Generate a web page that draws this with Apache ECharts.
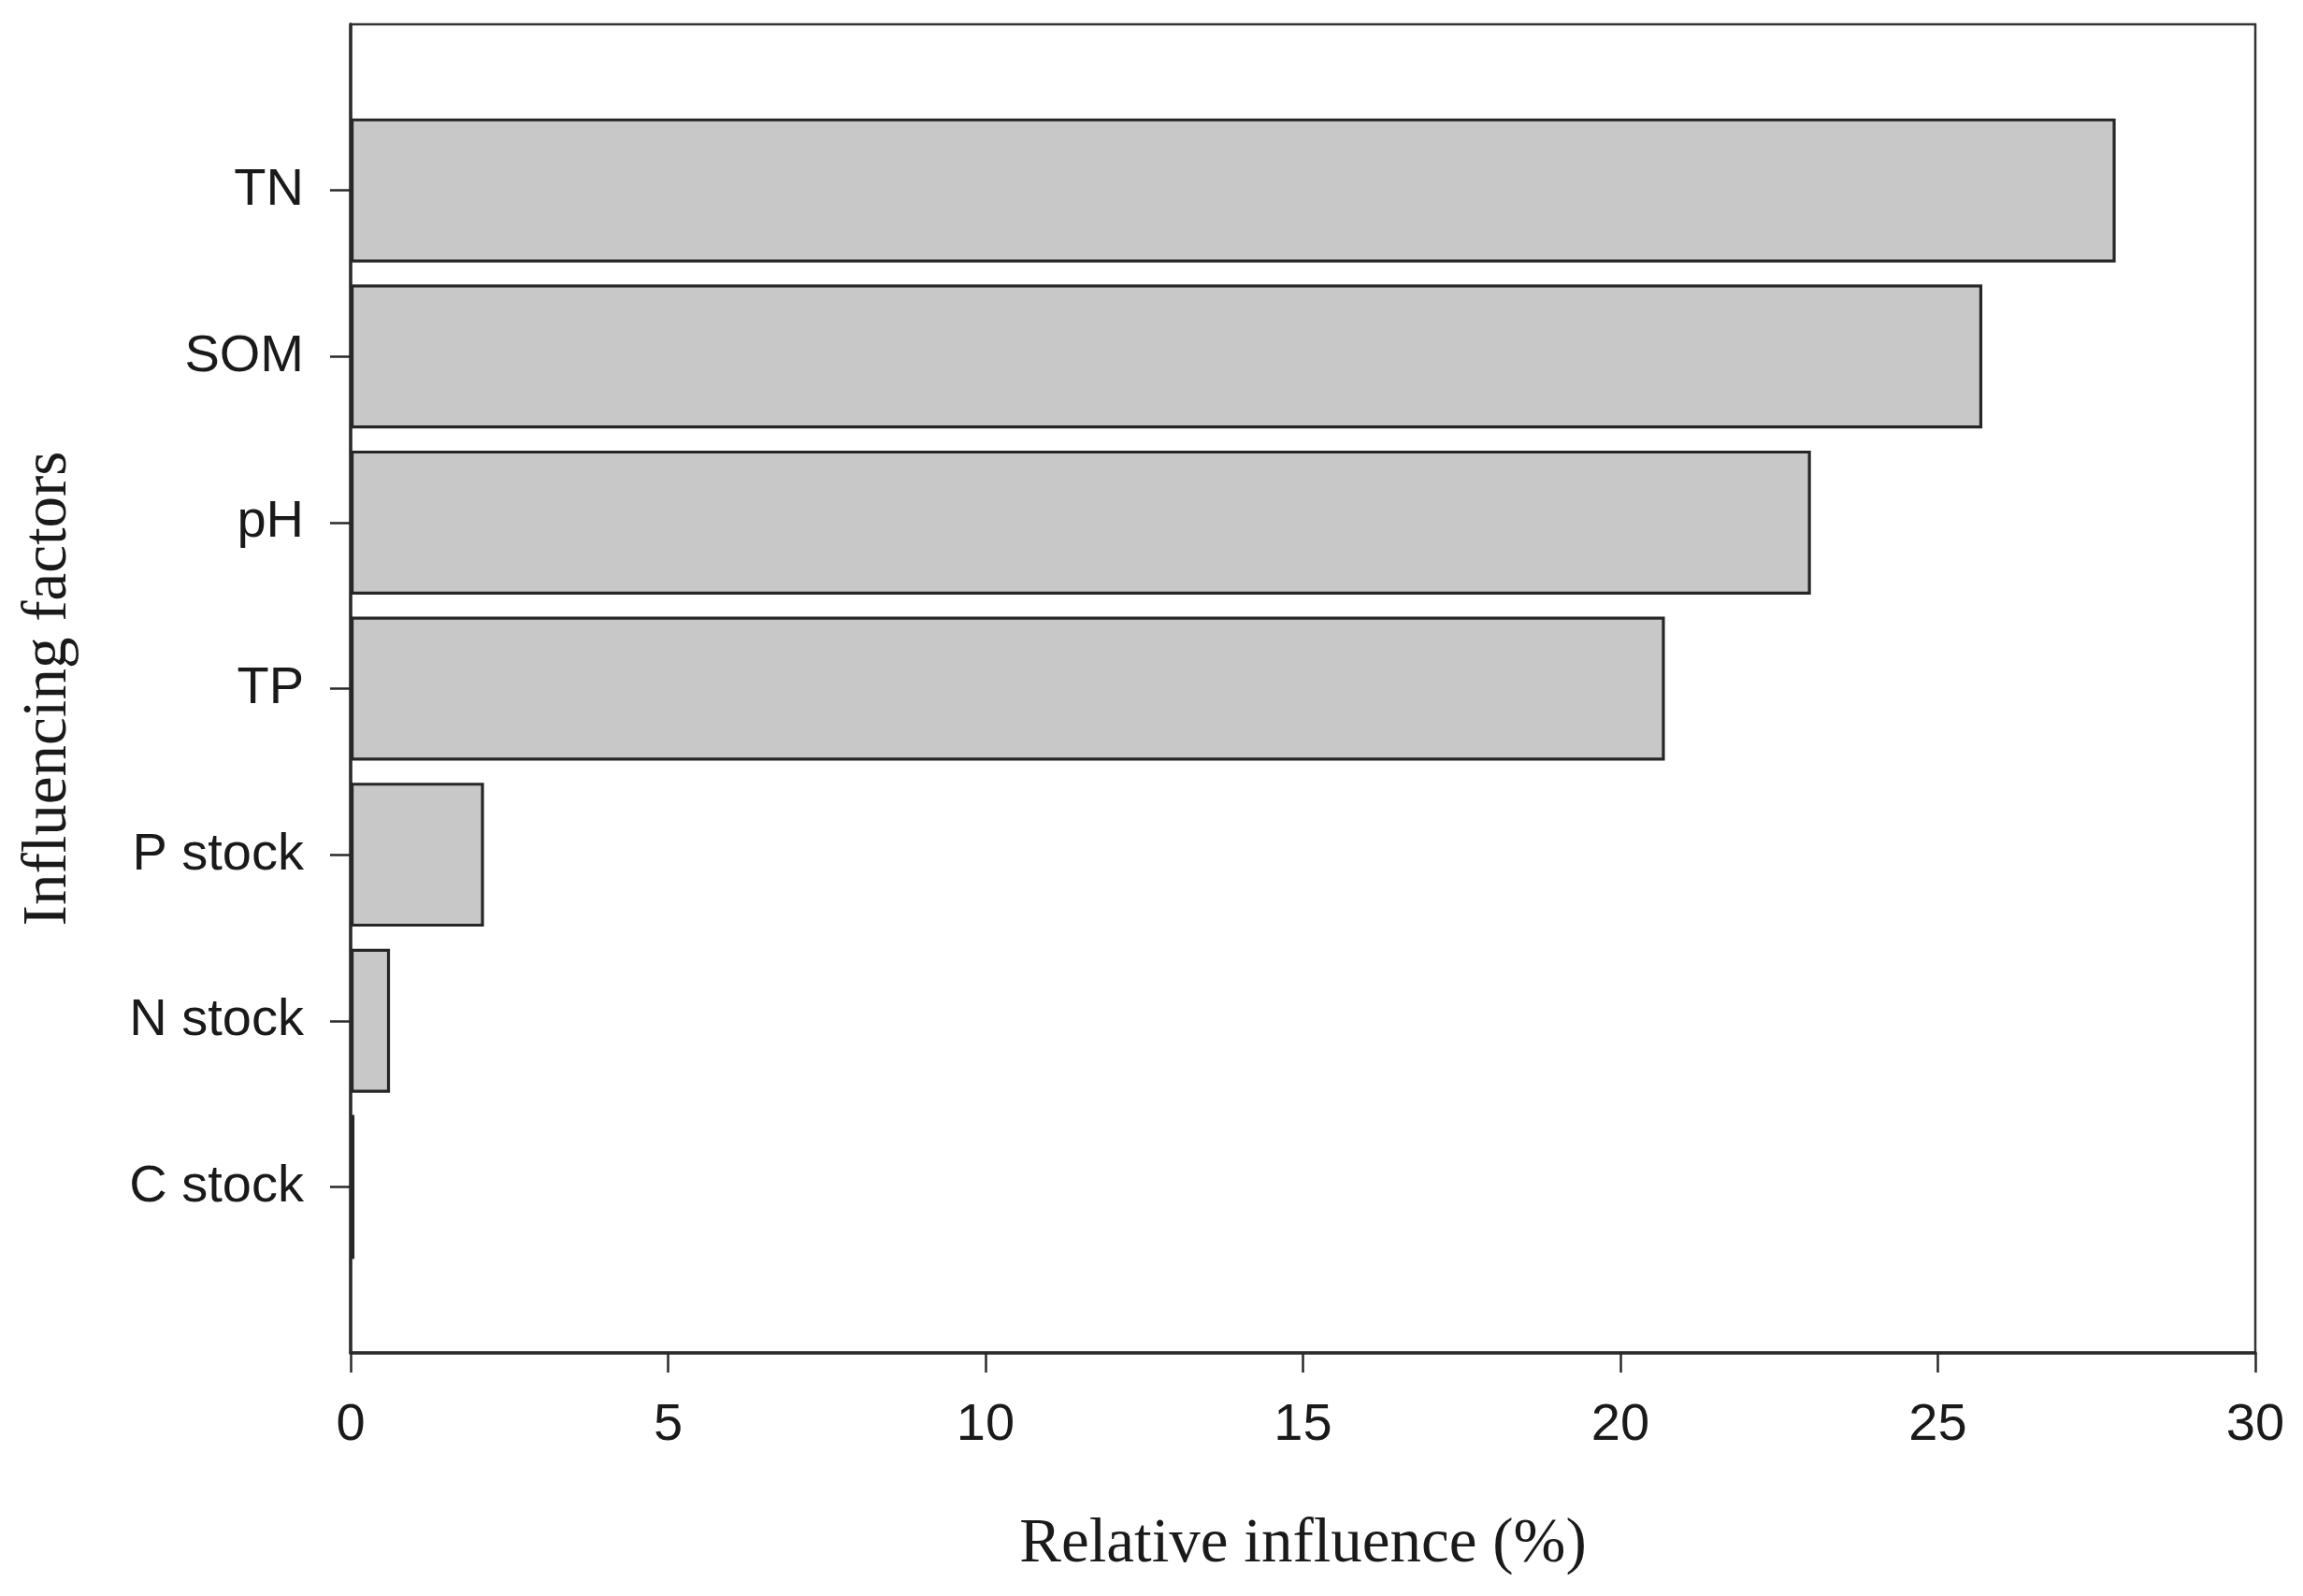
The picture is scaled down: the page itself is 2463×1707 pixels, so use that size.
<!DOCTYPE html>
<html>
<head>
<meta charset="utf-8">
<script src="https://cdn.jsdelivr.net/npm/echarts@6/dist/echarts.min.js"></script>
<style>
html,body{margin:0;padding:0;background:#fff;}
#chart{width:2463px;height:1707px;}
</style>
</head>
<body>
<div id="chart"></div>
<script>
const categories = ['TN', 'SOM', 'pH', 'TP', 'P stock', 'N stock', 'C stock'];
const influence = [27.8, 25.7, 23.0, 20.7, 2.1, 0.62, 0.06];
const xTicks = [0, 5, 10, 15, 20, 25, 30];

// pad an empty slot at each end so the axis spans one extra unit above and below
const yCats = [''].concat(categories, ['']);
const yVals = ['-'].concat(influence, ['-']);

const chart = echarts.init(document.getElementById('chart'));
chart.setOption({
  backgroundColor: '#ffffff',
  animation: false,
  grid: {
    left: 375, right: 51, top: 26, bottom: 260,
    show: true, borderColor: '#333', borderWidth: 2.5, backgroundColor: 'transparent'
  },
  xAxis: {
    type: 'value',
    min: xTicks[0], max: xTicks[xTicks.length - 1], interval: 5,
    name: 'Relative influence (%)',
    nameLocation: 'middle', nameGap: 172,
    nameTextStyle: { fontFamily: 'Liberation Serif', fontSize: 67, color: '#1a1a1a' },
    axisLine: { show: true, lineStyle: { color: '#2a2a2a', width: 3.5 } },
    axisTick: { show: true, inside: false, length: 21, lineStyle: { color: '#2a2a2a', width: 2.5 } },
    axisLabel: { margin: 50, fontFamily: 'Liberation Sans', fontSize: 56, color: '#1a1a1a' },
    splitLine: { show: false }
  },
  yAxis: {
    type: 'category',
    inverse: true,
    boundaryGap: false,
    data: yCats,
    name: 'Influencing factors',
    nameLocation: 'middle', nameGap: 289, nameRotate: 90,
    nameTextStyle: { fontFamily: 'Liberation Serif', fontSize: 67, color: '#1a1a1a' },
    axisLine: { show: true, lineStyle: { color: '#2a2a2a', width: 3.5 } },
    axisTick: {
      show: true, length: 22, lineStyle: { color: '#2a2a2a', width: 2.5 },
      alignWithLabel: true,
      interval: function (idx, val) { return val !== ''; }
    },
    axisLabel: { margin: 50, fontFamily: 'Liberation Sans', fontSize: 56, color: '#1a1a1a', interval: 0 },
    splitLine: { show: false }
  },
  series: [{
    type: 'bar',
    data: yVals,
    barWidth: 154,
    itemStyle: { color: '#c8c8c8', borderColor: '#262626', borderWidth: 3.2 },
    emphasis: { disabled: true }
  }]
});
</script>
</body>
</html>
